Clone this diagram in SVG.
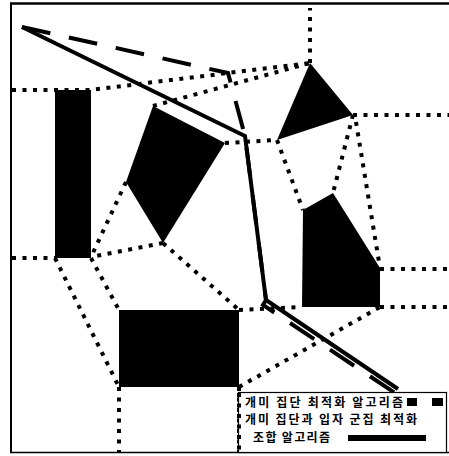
<svg xmlns="http://www.w3.org/2000/svg" width="449" height="456" viewBox="0 0 449 456">
<style>
.dot{fill:none;stroke:#000;stroke-width:4;stroke-dasharray:4 6.5}
.obs{fill:#000;stroke:none}
.sol{fill:none;stroke:#000;stroke-width:4;stroke-linejoin:miter}
.dsh{fill:none;stroke:#000;stroke-width:4;stroke-dasharray:29 19}
.frame{fill:none;stroke:#000}
.leg{font-family:"Noto Sans CJK KR","Noto Sans",sans-serif;font-size:12px;font-weight:700;fill:#000}
</style>
<rect width="449" height="456" fill="#fff"/>
<g id="frame">
<line class="frame" x1="10" y1="3.5" x2="449" y2="3.5" stroke-width="2.5"/>
<line class="frame" x1="11" y1="3" x2="11" y2="453" stroke-width="2"/>
<line class="frame" x1="10" y1="452.5" x2="449" y2="452.5" stroke-width="1.5"/>
</g>
<g id="obstacles">
<g id="rect-left"><rect class="obs" x="55" y="90" width="36" height="168"/></g>
<g id="kite"><polygon class="obs" points="153,106 225,143 163,243 126,182"/></g>
<g id="triangle"><polygon class="obs" points="310,63 353,115 277,140"/></g>
<g id="pentagon"><polygon class="obs" points="303,210 333,193 380,268 380,307 302,307"/></g>
<g id="rect-bottom"><rect class="obs" x="119" y="310" width="120" height="77"/></g>
</g>
<g id="connectors">
<polyline class="dot" points="12,90 90,90 228,73 310,63"/>
<line class="dot" x1="153" y1="106" x2="310" y2="63"/>
<line class="dot" x1="310" y1="63" x2="310" y2="8"/>
<line class="dot" x1="353" y1="115" x2="449" y2="115"/>
<line class="dot" x1="225" y1="143" x2="277" y2="140"/>
<line class="dot" x1="277" y1="140" x2="303" y2="210"/>
<line class="dot" x1="353" y1="115" x2="333" y2="193"/>
<line class="dot" x1="356" y1="122" x2="380" y2="268"/>
<line class="dot" x1="380" y1="269" x2="449" y2="269"/>
<line class="dot" x1="380" y1="307" x2="449" y2="307"/>
<line class="dot" x1="239" y1="310" x2="302" y2="307"/>
<line class="dot" x1="239" y1="387" x2="380" y2="307"/>
<line class="dot" x1="163" y1="243" x2="239" y2="310"/>
<line class="dot" x1="163" y1="243" x2="91" y2="257"/>
<line class="dot" x1="126" y1="182" x2="91" y2="257"/>
<line class="dot" x1="12" y1="258" x2="55" y2="258"/>
<line class="dot" x1="55" y1="258" x2="119" y2="387"/>
<line class="dot" x1="91" y1="258" x2="119" y2="310"/>
<line class="dot" x1="119" y1="387" x2="119" y2="452"/>
<line class="dot" x1="239" y1="387" x2="239" y2="452"/>
</g>
<g id="paths">
<polyline class="dsh" points="22,27 228,73 245,136 266,300 263,305 395,393"/>
<polyline class="sol" points="22,27 245,136 266,300 398,389"/>
</g>
<g id="legend">
<rect x="238.5" y="392.5" width="208" height="60" fill="#fff" stroke="#000" stroke-width="1.2"/>
<line class="dot" x1="239" y1="393" x2="239" y2="452"/>
<text class="leg" x="245" y="407" textLength="158" lengthAdjust="spacing">개미 집단 최적화 알고리즘</text>
<rect x="407" y="398" width="10" height="8" fill="#000"/>
<rect x="432" y="398" width="11" height="8" fill="#000"/>
<text class="leg" x="245" y="424" textLength="172" lengthAdjust="spacing">개미 집단과 입자 군집 최적화</text>
<text class="leg" x="253" y="442" textLength="77" lengthAdjust="spacing">조합 알고리즘</text>
<rect x="348" y="435" width="78" height="6" fill="#000"/>
</g>
</svg>
